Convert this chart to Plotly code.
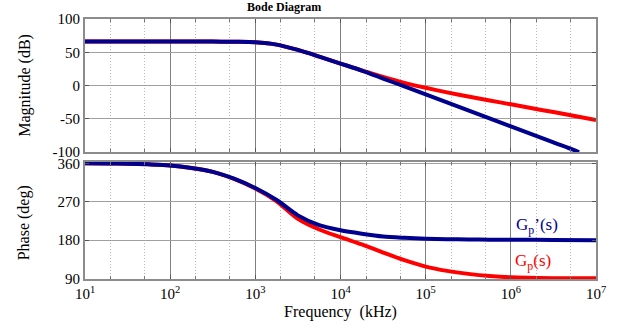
import plotly.graph_objects as go

mag_freq = [10, 31.62, 100, 316.2, 562.3, 1000, 1778, 3162, 5623, 10000, 17783]
mag_common = [66, 66, 66, 66, 65.7, 65, 61.5, 53.5, 43.5, 33, 22.5]

mag_red_freq = [31623, 56234, 100000, 177828, 316228, 562341, 1000000,
                1778279, 3162278, 5623413, 10000000]
mag_red_tail = [12.8, 4, -3.5, -10.3, -16.5, -22.5, -28.3, -34.2, -40, -46, -52]

mag_blue_freq = [31623, 56234, 100000, 177828, 316228, 562341, 1000000,
                 1778279, 3162278, 5623413, 6309573]
mag_blue_tail = [10.5, -1.5, -13.5, -25.5, -37.5, -49.5, -61.5, -73.5, -85.5, -97.5, -100.5]

ph_freq = [10, 17.78, 31.62, 56.23, 100, 177.8, 316.2, 562.3, 1000, 1778, 3162, 5623,
           10000, 17783, 31623, 56234, 100000, 177828, 316228, 562341, 1000000,
           3162278, 10000000]
ph_blue = [360, 359.7, 359, 357.5, 355, 349, 340, 324, 302, 274, 238, 215,
           203, 195, 188.5, 185.5, 183.5, 182.3, 181.5, 181.2, 181, 180.5, 180]
ph_red = [360, 359.7, 359, 357.5, 355, 349, 340, 323.5, 301, 271, 230, 205,
          187, 170, 151, 133, 118, 108, 101, 96, 93, 91, 90.5]

x_ticks = [10, 100, 1000, 10000, 100000, 1000000, 10000000]
x_ticktext = ["10<sup>1</sup>", "10<sup>2</sup>", "10<sup>3</sup>", "10<sup>4</sup>",
              "10<sup>5</sup>", "10<sup>6</sup>", "10<sup>7</sup>"]
mag_ticks = [-100, -50, 0, 50, 100]
mag_ticktext = ["-100", "-50", "0", "50", "100"]
ph_ticks = [90, 180, 270, 360]

RED = "#ff0000"
BLUE = "#00008f"
FONT = "Liberation Serif, Times New Roman, Times, serif"

fig = go.Figure()
fig.add_trace(go.Scatter(x=mag_freq + mag_red_freq, y=mag_common + mag_red_tail,
                         mode="lines",
                         line=dict(color=RED, width=4, shape="spline", smoothing=0.8),
                         xaxis="x", yaxis="y", showlegend=False))
fig.add_trace(go.Scatter(x=mag_freq + mag_blue_freq, y=mag_common + mag_blue_tail,
                         mode="lines",
                         line=dict(color=BLUE, width=4, shape="spline", smoothing=0.8),
                         xaxis="x", yaxis="y", showlegend=False))
fig.add_trace(go.Scatter(x=ph_freq, y=ph_red, mode="lines",
                         line=dict(color=RED, width=4, shape="spline", smoothing=0.8),
                         xaxis="x2", yaxis="y2", showlegend=False))
fig.add_trace(go.Scatter(x=ph_freq, y=ph_blue, mode="lines",
                         line=dict(color=BLUE, width=4, shape="spline", smoothing=0.8),
                         xaxis="x2", yaxis="y2", showlegend=False))

xcommon = dict(type="log", range=[1, 7], tickvals=x_ticks, ticktext=x_ticktext,
               showgrid=True, gridcolor="#808080", gridwidth=1,
               showline=True, linecolor="#8c8c8c", linewidth=2, mirror="allticks",
               ticks="inside", ticklen=4, tickcolor="#555", automargin=False,
               minor=dict(ticks="inside", ticklen=3, tickcolor="#777", showgrid=True,
                          gridcolor="#b8b8b8", griddash="1px,2px", gridwidth=1),
               zeroline=False, tickfont=dict(family=FONT, size=15, color="black"))
ycommon = dict(showgrid=True, gridcolor="#a0a0a0", gridwidth=1,
               showline=True, linecolor="#8c8c8c", linewidth=2, mirror="allticks",
               ticks="inside", ticklen=4, tickcolor="#555", zeroline=False,
               automargin=False,
               tickfont=dict(family=FONT, size=15, color="black"))

fig.update_layout(
    width=625, height=333,
    margin=dict(l=85, r=29, t=19, b=54, autoexpand=False),
    paper_bgcolor="white", plot_bgcolor="white",
    font=dict(family=FONT, color="black"),
    hovermode=False,
    xaxis=dict(xcommon, anchor="y", domain=[0, 1], showticklabels=False),
    xaxis2=dict(xcommon, anchor="y2", domain=[0, 1], matches="x",
                title=dict(text="Frequency  (kHz)", font=dict(family=FONT, size=16),
                           standoff=5)),
    yaxis=dict(ycommon, anchor="x", domain=[0.4885, 1], range=[-100, 100],
               tickvals=mag_ticks, ticktext=mag_ticktext),
    yaxis2=dict(ycommon, anchor="x2", domain=[0, 0.45], range=[89, 363],
                tickvals=ph_ticks),
    annotations=[
        dict(text="<b>Bode Diagram</b>", xref="paper", yref="paper", x=0.389, y=1.0,
             yshift=12, xanchor="center", yanchor="middle", showarrow=False,
             font=dict(family=FONT, size=12, color="black")),
        dict(text="Magnitude (dB)", xref="paper", yref="paper", x=-0.119, y=0.744,
             textangle=-90, xanchor="center", yanchor="middle", showarrow=False,
             font=dict(family=FONT, size=16, color="black")),
        dict(text="Phase (deg)", xref="paper", yref="paper", x=-0.119, y=0.215,
             textangle=-90, xanchor="center", yanchor="middle", showarrow=False,
             font=dict(family=FONT, size=16, color="black")),
        dict(text="G<sub>p</sub>’(s)", xref="x2", yref="y2", x=6.31, y=214,
             xanchor="center", yanchor="middle", showarrow=False,
             font=dict(family=FONT, size=17, color=BLUE)),
        dict(text="G<sub>p</sub>(s)", xref="x2", yref="y2", x=6.26, y=128,
             xanchor="center", yanchor="middle", showarrow=False,
             font=dict(family=FONT, size=17, color=RED)),
    ],
)

fig.write_html("out.html", config={"displayModeBar": False},
               post_script="document.body.style.margin='0px';document.body.style.padding='0px';")
